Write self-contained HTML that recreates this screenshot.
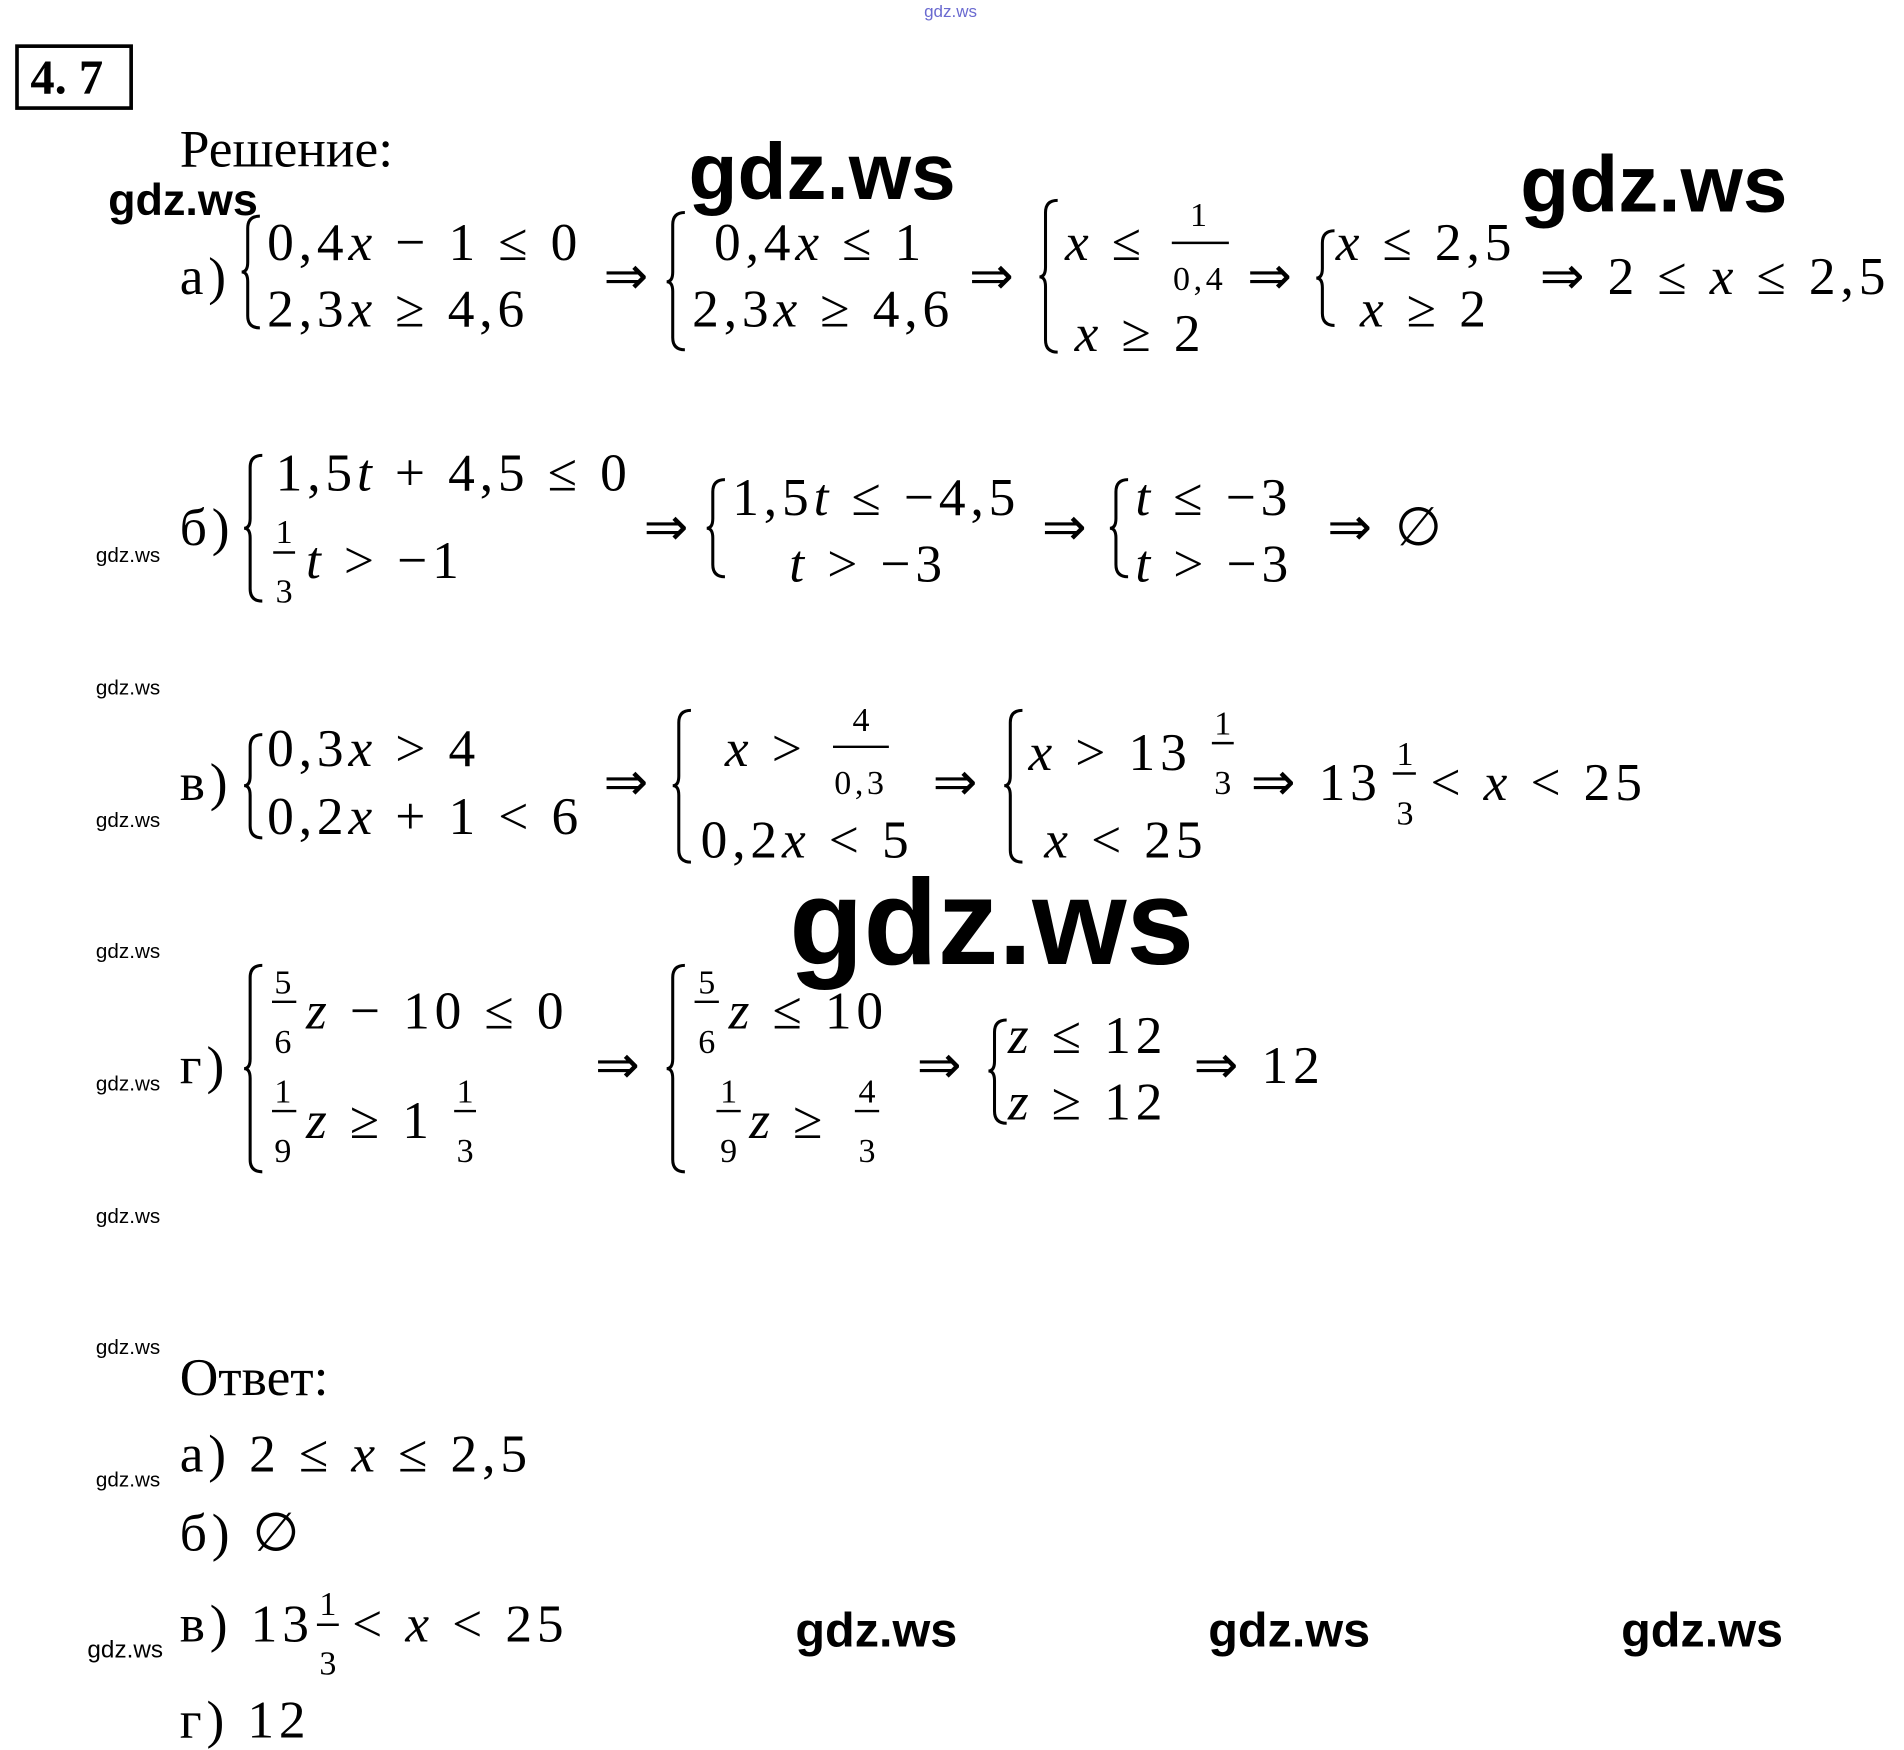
<!DOCTYPE html>
<html><head><meta charset="utf-8">
<style>
html,body{margin:0;padding:0;background:#fff;}
body{width:1904px;height:1750px;overflow:hidden;position:relative;}
#c{position:absolute;left:0;top:0;width:1568px;height:1441px;transform:scale(1.2143);transform-origin:0 0;}
.t{position:absolute;white-space:nowrap;line-height:1;font-family:"Liberation Serif",serif;font-size:44px;color:#000;letter-spacing:4px;}
.f{font-size:28px;letter-spacing:3px;}
.n{letter-spacing:0;}
.g{position:absolute;white-space:nowrap;line-height:1;font-family:"Liberation Sans",sans-serif;color:#000;}
.s{font-size:17px;}
i{font-style:italic;}
svg{position:absolute;left:0;top:0;}
</style></head><body><div id="c">
<svg width="1568" height="1441" fill="none" stroke="#000" stroke-width="2.5">
<rect x="14" y="38" width="94" height="51" stroke-width="3"/>
<path d="M214 178 Q204 178 204 188 L204 216 Q204 224 199 224 Q204 224 204 232 L204 260 Q204 270 214 270"/>
<path d="M564 175 Q554 175 554 185 L554 224 Q554 232 549 232 Q554 232 554 240 L554 278 Q554 288 564 288"/>
<path d="M871 165 Q861 165 861 175 L861 220 Q861 228 856 228 Q861 228 861 236 L861 280 Q861 290 871 290"/>
<path d="M1099 190 Q1089 190 1089 200 L1089 221 Q1089 229 1084 229 Q1089 229 1089 237 L1089 258 Q1089 268 1099 268"/>
<path d="M216 375 Q206 375 206 385 L206 427 Q206 435 201 435 Q206 435 206 443 L206 485 Q206 495 216 495"/>
<path d="M597 395 Q587 395 587 405 L587 427 Q587 435 582 435 Q587 435 587 443 L587 465 Q587 475 597 475"/>
<path d="M929 395 Q919 395 919 405 L919 427 Q919 435 914 435 Q919 435 919 443 L919 465 Q919 475 929 475"/>
<path d="M216 605 Q206 605 206 615 L206 639 Q206 647 201 647 Q206 647 206 655 L206 680 Q206 690 216 690"/>
<path d="M569 585 Q559 585 559 595 L559 639 Q559 647 554 647 Q559 647 559 655 L559 700 Q559 710 569 710"/>
<path d="M842 585 Q832 585 832 595 L832 639 Q832 647 827 647 Q832 647 832 655 L832 700 Q832 710 842 710"/>
<path d="M216 795 Q206 795 206 805 L206 872 Q206 880 201 880 Q206 880 206 888 L206 955 Q206 965 216 965"/>
<path d="M564 795 Q554 795 554 805 L554 872 Q554 880 549 880 Q554 880 554 888 L554 955 Q554 965 564 965"/>
<path d="M829 840 Q819 840 819 850 L819 874 Q819 882 814 882 Q819 882 819 890 L819 915 Q819 925 829 925"/>
<g stroke-width="2">
<line x1="965" y1="200" x2="1012" y2="200"/>
<line x1="225" y1="455" x2="243" y2="455"/>
<line x1="686" y1="615" x2="732" y2="615"/>
<line x1="998" y1="612" x2="1016" y2="612"/>
<line x1="1147" y1="637" x2="1166" y2="637"/>
<line x1="224" y1="825" x2="244" y2="825"/>
<line x1="224" y1="915" x2="244" y2="915"/>
<line x1="374" y1="915" x2="392" y2="915"/>
<line x1="572" y1="825" x2="592" y2="825"/>
<line x1="590" y1="915" x2="610" y2="915"/>
<line x1="704" y1="915" x2="724" y2="915"/>
<line x1="261" y1="1338" x2="279" y2="1338"/>
</g>
</svg>

<div class="g" style="left:761px;top:2px;font-size:14px;color:#6a6ad0;">gdz.ws</div>
<div class="t n" style="left:25px;top:44px;font-size:40px;font-weight:bold;">4. 7</div>
<div class="t n" style="left:148px;top:101px;">Решение:</div>
<div class="g" style="left:567px;top:108px;font-size:66px;font-weight:bold;">gdz.ws</div>
<div class="g" style="left:1252px;top:118px;font-size:66px;font-weight:bold;">gdz.ws</div>
<div class="g" style="left:89px;top:146px;font-size:37px;font-weight:bold;">gdz.ws</div>

<div class="t" style="left:148px;top:206px;">а)</div>
<div class="t" style="left:220px;top:178px;">0,4<i>x</i> − 1 ≤ 0</div>
<div class="t" style="left:220px;top:233px;">2,3<i>x</i> ≥ 4,6</div>
<div class="t" style="left:497px;top:206px;">⇒</div>
<div class="t" style="left:588px;top:178px;">0,4<i>x</i> ≤ 1</div>
<div class="t" style="left:570px;top:233px;">2,3<i>x</i> ≥ 4,6</div>
<div class="t" style="left:798px;top:206px;">⇒</div>
<div class="t" style="left:877px;top:178px;"><i>x</i> ≤</div>
<div class="t f" style="left:980px;top:164px;">1</div>
<div class="t f" style="left:966px;top:217px;">0,4</div>
<div class="t" style="left:885px;top:253px;"><i>x</i> ≥ 2</div>
<div class="t" style="left:1027px;top:206px;">⇒</div>
<div class="t" style="left:1100px;top:178px;"><i>x</i> ≤ 2,5</div>
<div class="t" style="left:1120px;top:233px;"><i>x</i> ≥ 2</div>
<div class="t" style="left:1268px;top:206px;">⇒ 2 ≤ <i>x</i> ≤ 2,5</div>

<div class="t" style="left:148px;top:413px;">б)</div>
<div class="t" style="left:227px;top:368px;">1,5<i>t</i> + 4,5 ≤ 0</div>
<div class="t f" style="left:227px;top:425px;">1</div>
<div class="t f" style="left:227px;top:474px;">3</div>
<div class="t" style="left:252px;top:440px;"><i>t</i> &gt; −1</div>
<div class="t" style="left:530px;top:413px;">⇒</div>
<div class="t" style="left:603px;top:388px;">1,5<i>t</i> ≤ −4,5</div>
<div class="t" style="left:650px;top:443px;"><i>t</i> &gt; −3</div>
<div class="t" style="left:858px;top:413px;">⇒</div>
<div class="t" style="left:935px;top:388px;"><i>t</i> ≤ −3</div>
<div class="t" style="left:935px;top:443px;"><i>t</i> &gt; −3</div>
<div class="t" style="left:1093px;top:413px;">⇒ ∅</div>

<div class="t" style="left:148px;top:623px;">в)</div>
<div class="t" style="left:220px;top:595px;">0,3<i>x</i> &gt; 4</div>
<div class="t" style="left:220px;top:651px;">0,2<i>x</i> + 1 &lt; 6</div>
<div class="t" style="left:497px;top:623px;">⇒</div>
<div class="t" style="left:597px;top:595px;"><i>x</i> &gt;</div>
<div class="t f" style="left:702px;top:580px;">4</div>
<div class="t f" style="left:687px;top:632px;">0,3</div>
<div class="t" style="left:577px;top:670px;">0,2<i>x</i> &lt; 5</div>
<div class="t" style="left:768px;top:623px;">⇒</div>
<div class="t" style="left:847px;top:598px;"><i>x</i> &gt; 13</div>
<div class="t f" style="left:1000px;top:583px;">1</div>
<div class="t f" style="left:1000px;top:632px;">3</div>
<div class="t" style="left:860px;top:670px;"><i>x</i> &lt; 25</div>
<div class="t" style="left:1030px;top:623px;">⇒ 13</div>
<div class="t f" style="left:1150px;top:608px;">1</div>
<div class="t f" style="left:1150px;top:657px;">3</div>
<div class="t" style="left:1178px;top:623px;">&lt; <i>x</i> &lt; 25</div>

<div class="g" style="left:650px;top:710px;font-size:100px;font-weight:bold;">gdz.ws</div>

<div class="t" style="left:148px;top:856px;">г)</div>
<div class="t f" style="left:226px;top:796px;">5</div>
<div class="t f" style="left:226px;top:845px;">6</div>
<div class="t" style="left:252px;top:811px;"><i>z</i> − 10 ≤ 0</div>
<div class="t f" style="left:226px;top:886px;">1</div>
<div class="t f" style="left:226px;top:935px;">9</div>
<div class="t" style="left:252px;top:901px;"><i>z</i> ≥ 1</div>
<div class="t f" style="left:376px;top:886px;">1</div>
<div class="t f" style="left:376px;top:935px;">3</div>
<div class="t" style="left:490px;top:856px;">⇒</div>
<div class="t f" style="left:575px;top:796px;">5</div>
<div class="t f" style="left:575px;top:845px;">6</div>
<div class="t" style="left:600px;top:811px;"><i>z</i> ≤ 10</div>
<div class="t f" style="left:593px;top:886px;">1</div>
<div class="t f" style="left:593px;top:935px;">9</div>
<div class="t" style="left:617px;top:901px;"><i>z</i> ≥</div>
<div class="t f" style="left:707px;top:886px;">4</div>
<div class="t f" style="left:707px;top:935px;">3</div>
<div class="t" style="left:755px;top:856px;">⇒</div>
<div class="t" style="left:830px;top:831px;"><i>z</i> ≤ 12</div>
<div class="t" style="left:830px;top:886px;"><i>z</i> ≥ 12</div>
<div class="t" style="left:983px;top:856px;">⇒ 12</div>

<div class="g s" style="left:79px;top:449px;">gdz.ws</div>
<div class="g s" style="left:79px;top:558px;">gdz.ws</div>
<div class="g s" style="left:79px;top:667px;">gdz.ws</div>
<div class="g s" style="left:79px;top:775px;">gdz.ws</div>
<div class="g s" style="left:79px;top:884px;">gdz.ws</div>
<div class="g s" style="left:79px;top:993px;">gdz.ws</div>
<div class="g s" style="left:79px;top:1101px;">gdz.ws</div>
<div class="g s" style="left:79px;top:1210px;">gdz.ws</div>
<div class="g" style="left:72px;top:1349px;font-size:20px;">gdz.ws</div>

<div class="t n" style="left:148px;top:1113px;">Ответ:</div>
<div class="t" style="left:148px;top:1176px;">а) 2 ≤ <i>x</i> ≤ 2,5</div>
<div class="t" style="left:148px;top:1241px;">б) ∅</div>
<div class="t" style="left:148px;top:1316px;">в) 13</div>
<div class="t f" style="left:263px;top:1308px;">1</div>
<div class="t f" style="left:263px;top:1357px;">3</div>
<div class="t" style="left:290px;top:1316px;">&lt; <i>x</i> &lt; 25</div>
<div class="t" style="left:148px;top:1395px;">г) 12</div>
<div class="g" style="left:655px;top:1323px;font-size:40px;font-weight:bold;">gdz.ws</div>
<div class="g" style="left:995px;top:1323px;font-size:40px;font-weight:bold;">gdz.ws</div>
<div class="g" style="left:1335px;top:1323px;font-size:40px;font-weight:bold;">gdz.ws</div>
</div></body></html>
